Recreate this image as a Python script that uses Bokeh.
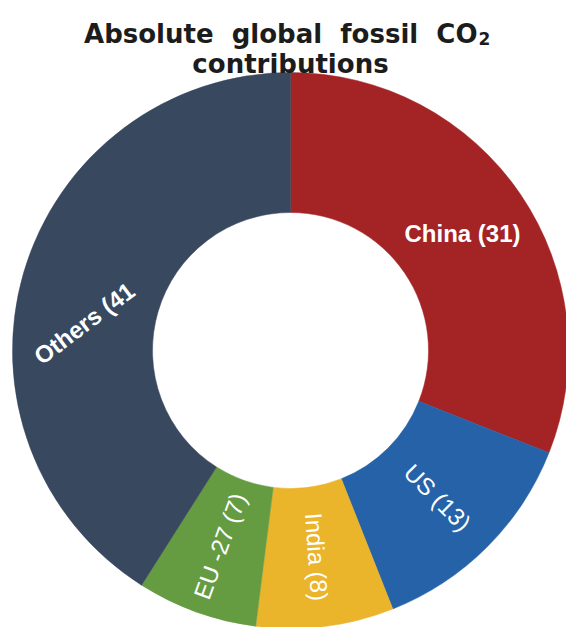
import math
from bokeh.plotting import figure
from bokeh.models import ColumnDataSource, Range1d, Label
from bokeh.embed import file_html
from bokeh.resources import INLINE

# ---- data ----
categories = ["China", "US", "India", "EU -27", "Others"]
values = [31, 13, 8, 7, 41]
label_texts = ["China (31)", "US (13)", "India (8)", "EU -27 (7)", "Others (41"]
colors = ["#A42426", "#2662A8", "#EAB42B", "#659C42", "#38485F"]

# ---- label styling ----
label_rot_deg = [0, -45, -86, 70, 37]
label_angle_shift = [0, 0, 0, 0, -8.7]   # degrees, clockwise-from-top shift
label_weight = ["bold", "normal", "normal", "normal", "bold"]

W, H = 566, 627
cx, cy = 290, H - 350
r_in, r_out = 138, 278
r_lab = 208

total = float(sum(values))
starts, ends, lx, ly, rots = [], [], [], [], []
cum = 0.0
for i, v in enumerate(values):
    a0 = cum / total * 360.0
    a1 = (cum + v) / total * 360.0
    starts.append(math.radians(90 - a0))
    ends.append(math.radians(90 - a1))
    mid = (a0 + a1) / 2 + label_angle_shift[i]
    lx.append(cx + r_lab * math.sin(math.radians(mid)))
    ly.append(cy + r_lab * math.cos(math.radians(mid)))
    rots.append(math.radians(label_rot_deg[i]))
    cum += v

src = ColumnDataSource(dict(cat=categories, val=values, start=starts, end=ends,
                            color=colors, x=[cx] * len(values), y=[cy] * len(values)))

p = figure(width=W, height=H, output_backend="svg", toolbar_location=None,
           x_range=Range1d(0, W), y_range=Range1d(0, H), min_border=0)
p.axis.visible = False
p.grid.visible = False
p.outline_line_color = None
p.background_fill_color = "white"
p.border_fill_color = "white"

p.annular_wedge(x="x", y="y", inner_radius=r_in, outer_radius=r_out,
                start_angle="start", end_angle="end", direction="clock",
                fill_color="color", line_color="color", line_width=0.5, source=src)

for i in range(len(values)):
    p.add_layout(Label(x=lx[i], y=ly[i], text=label_texts[i], angle=rots[i],
                       text_align="center", text_baseline="middle",
                       text_color="white", text_font="Liberation Sans",
                       text_font_style=label_weight[i], text_font_size="24px"))

title_color = "#1c1c1c"
# line 1 main part (right aligned) + subscript "2"
p.add_layout(Label(x=477, y=H - 33, text="Absolute\u00a0 global\u00a0 fossil\u00a0 CO",
                   text_align="right", text_baseline="alphabetic", text_color=title_color,
                   text_font="DejaVu Sans", text_font_style="bold", text_font_size="26px"))
p.add_layout(Label(x=478, y=H - 38, text="2",
                   text_align="left", text_baseline="alphabetic", text_color=title_color,
                   text_font="DejaVu Sans", text_font_style="bold", text_font_size="17px"))
p.add_layout(Label(x=290, y=H - 63, text="contributions",
                   text_align="center", text_baseline="alphabetic", text_color=title_color,
                   text_font="DejaVu Sans", text_font_style="bold", text_font_size="26px"))

open("out.html", "w").write(file_html(p, INLINE))
